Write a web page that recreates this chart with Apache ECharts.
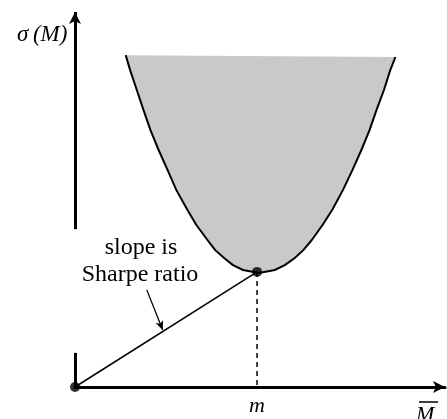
<!DOCTYPE html>
<html>
<head>
<meta charset="utf-8">
<script src="https://cdn.jsdelivr.net/npm/echarts@6/dist/echarts.min.js"></script>
<style>
  html, body { margin: 0; padding: 0; background: #fff; }
  #chart { width: 447px; height: 419px; }
</style>
</head>
<body>
<div id="chart"></div>
<script>
// frontier boundary (arbitrary units, 0..10 on both axes)
const frontierX = [1.37, 1.49, 1.67, 1.85, 2.04, 2.26, 2.50, 2.74, 3.04, 3.28, 3.58, 3.79, 4.03, 4.27, 4.54, 4.97,
  5.40, 5.67, 5.94, 6.17, 6.40, 6.69, 6.95, 7.24, 7.50, 7.74, 7.96, 8.15, 8.35, 8.52, 8.66]
const frontierY = [8.85, 8.45, 7.92, 7.39, 6.85, 6.32, 5.79, 5.25, 4.72, 4.32, 3.92, 3.65, 3.44, 3.25, 3.12, 3.04,
  3.12, 3.25, 3.44, 3.65, 3.92, 4.32, 4.72, 5.25, 5.79, 6.32, 6.85, 7.39, 7.92, 8.45, 8.80]

// tangent portfolio
const tangentX = [0, 4.92]
const tangentY = [0, 3.07]
const mValue = 4.92

// y axis drawn in two pieces (gap around the annotation)
const yAxisLow = [0, 0.91]
const yAxisHigh = [4.21, 10]

// little pointer from the text to the line
const pointerFrom = [1.94, 2.59]
const pointerTo = [2.37, 1.52]

const serif = '"Liberation Serif", "DejaVu Serif", serif'

const chart = echarts.init(document.getElementById('chart'))

const frontier = frontierX.map((x, i) => [x, frontierY[i]])

const option = {
  animation: false,
  grid: { left: 75, right: 2, top: 12, bottom: 32 },
  xAxis: {
    type: 'value',
    min: 0,
    max: 10,
    splitLine: { show: false },
    axisTick: { show: false },
    axisLine: {
      show: true,
      symbol: ['none', 'arrow'],
      symbolSize: [9, 12],
      lineStyle: { color: '#000', width: 3 }
    },
    axisLabel: {
      customValues: [mValue],
      formatter: () => 'm',
      margin: 8,
      color: '#000',
      fontFamily: serif,
      fontStyle: 'italic',
      fontSize: 22
    }
  },
  yAxis: {
    type: 'value',
    min: 0,
    max: 10,
    splitLine: { show: false },
    axisTick: { show: false },
    axisLabel: { show: false },
    axisLine: { show: false }
  },
  series: [
    {
      type: 'custom',
      silent: true,
      data: [[0, 0]],
      renderItem: (params, api) => {
        const pts = frontier.map(p => api.coord(p))
        return {
          type: 'group',
          children: [
            {
              type: 'polygon',
              shape: { points: pts },
              style: { fill: '#c9c9c9', stroke: null }
            },
            {
              type: 'polyline',
              shape: { points: pts },
              style: { fill: null, stroke: '#000', lineWidth: 2, lineJoin: 'round' }
            }
          ]
        }
      }
    },
    {
      type: 'line',
      data: tangentX.map((x, i) => [x, tangentY[i]]),
      symbol: 'none',
      lineStyle: { color: '#000', width: 1.5 }
    },
    {
      type: 'line',
      data: [[mValue, tangentY[1]], [mValue, 0]],
      symbol: 'none',
      lineStyle: { color: '#000', width: 1.5, type: [5, 4] }
    },
    {
      type: 'line',
      data: [],
      markLine: {
        silent: true,
        animation: false,
        symbol: ['none', 'none'],
        label: { show: false },
        lineStyle: { color: '#000', width: 3, type: 'solid' },
        data: [[{ coord: [0, yAxisLow[0]] }, { coord: [0, yAxisLow[1]] }]]
      }
    },
    {
      type: 'line',
      data: [],
      markLine: {
        silent: true,
        animation: false,
        symbol: ['none', 'arrow'],
        symbolSize: [9, 12],
        label: { show: false },
        lineStyle: { color: '#000', width: 3, type: 'solid' },
        data: [[{ coord: [0, yAxisHigh[0]] }, { coord: [0, yAxisHigh[1]] }]]
      }
    },
    {
      type: 'line',
      data: [],
      markLine: {
        silent: true,
        animation: false,
        symbol: ['none', 'arrow'],
        symbolSize: [6, 9],
        label: { show: false },
        lineStyle: { color: '#000', width: 1.3, type: 'solid' },
        data: [[{ coord: pointerFrom }, { coord: pointerTo }]]
      }
    },
    {
      type: 'scatter',
      data: tangentX.map((x, i) => [x, tangentY[i]]),
      symbolSize: 10,
      itemStyle: { color: '#000' }
    }
  ],
  graphic: [
    {
      type: 'text',
      left: 17,
      top: 23,
      style: { text: 'σ\u2009(M)', font: 'italic 23px ' + serif, fill: '#000' }
    },
    {
      type: 'text',
      x: 141,
      y: 248,
      style: { text: 'slope is', font: '24px ' + serif, fill: '#000', align: 'center', verticalAlign: 'middle' }
    },
    {
      type: 'text',
      x: 140,
      y: 275,
      style: { text: 'Sharpe ratio', font: '24px ' + serif, fill: '#000', align: 'center', verticalAlign: 'middle' }
    },
    {
      type: 'text',
      left: 416,
      top: 404,
      style: { text: 'M', font: 'italic 22px ' + serif, fill: '#000' }
    },
    {
      type: 'line',
      shape: { x1: 419, y1: 402, x2: 438, y2: 402 },
      style: { stroke: '#000', lineWidth: 1.5 }
    }
  ]
}

chart.setOption(option)
window.addEventListener('resize', () => chart.resize())
</script>
</body>
</html>
